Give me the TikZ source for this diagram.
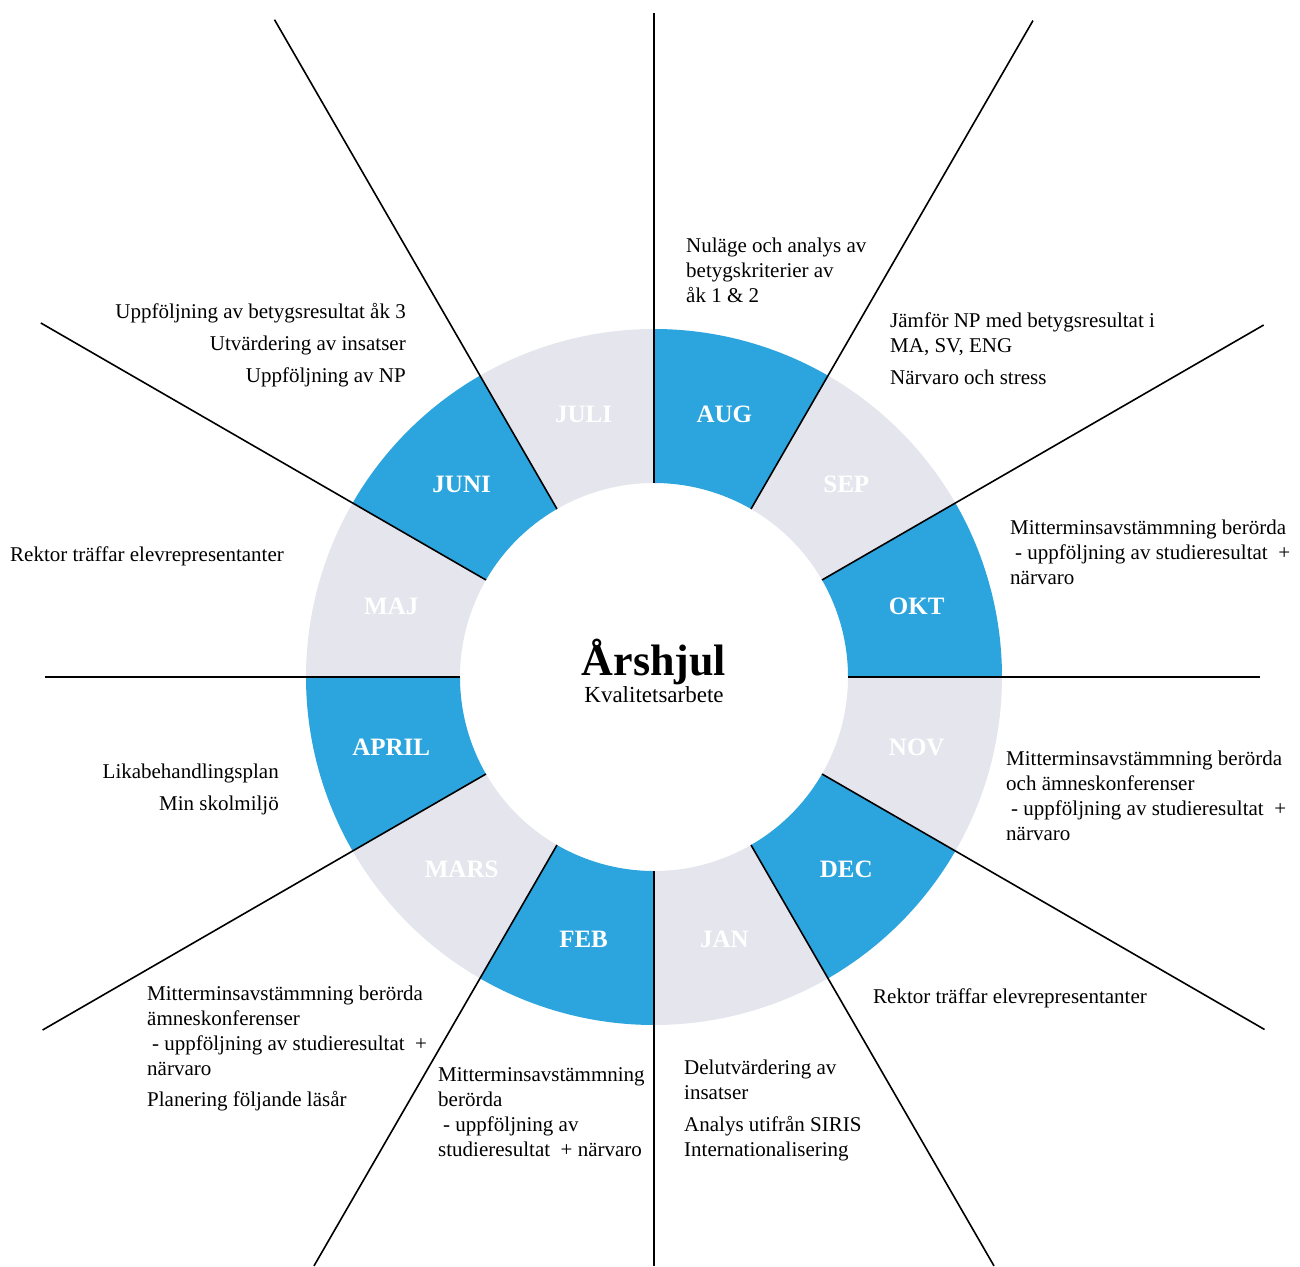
\documentclass[tikz,border=0pt]{standalone}
\usepackage{fontspec}
\setmainfont{Liberation Serif}
\definecolor{wheelblue}{RGB}{44,165,222}
\definecolor{wheelgray}{RGB}{229,230,237}
\begin{document}
\begin{tikzpicture}[x=1pt,y=1pt,
    note/.style={align=left,inner sep=0pt,anchor=north west,font=\fontsize{21}{25}\selectfont},
    rnote/.style={note,align=right,anchor=north east},
    month/.style={text=white,font=\bfseries\fontsize{25}{25}\selectfont}]
  \useasboundingbox (-654,-589) rectangle (646,677);

  % ring of months
  \foreach \a/\c in {0/wheelblue,30/wheelgray,60/wheelblue,90/wheelgray,120/wheelblue,150/wheelgray,
                     180/wheelblue,210/wheelgray,240/wheelblue,270/wheelgray,300/wheelblue,330/wheelgray}
    \fill[\c] (\a:348) arc[start angle=\a,end angle={\a+30},radius=348]
      -- ({\a+30}:194) arc[start angle={\a+30},end angle=\a,radius=194] -- cycle;

  \foreach \a/\l in {90/664,60/758,30/704,0/606,-30/705,-60/680,-90/589,-120/680,-150/706,180/609,150/708,120/759}
    \draw[line width=1.6pt] (\a:194) -- (\a:\l);

  \foreach \a/\m in {75/AUG,45/SEP,15/OKT,-15/NOV,-45/DEC,-75/JAN,-105/FEB,-135/MARS,-165/APRIL,165/MAJ,135/JUNI,105/JULI}
    \node[month] (\m) at (\a:272) {\m};

  \node[font=\bfseries\fontsize{44}{44}\selectfont,anchor=base] (title) at (0,2) {Årshjul};
  \node[font=\fontsize{23}{23}\selectfont,anchor=base] (subtitle) at (0,-25) {Kvalitetsarbete};

  % notes per month
  \node[note] (augnote) at (32,439) {Nuläge och analys av\\betygskriterier av\\åk 1 \& 2};
  \node[note] (sepnote) at (236,364) {Jämför NP med betygsresultat i\\MA, SV, ENG\\[7pt]Närvaro och stress};
  \node[note] (oktnote) at (356,157) {Mitterminsavstämmning berörda\\\hspace*{5pt}- uppföljning av studieresultat\ \ +\\närvaro};
  \node[note] (novnote) at (352,-74) {Mitterminsavstämmning berörda\\och ämneskonferenser\\\hspace*{5pt}- uppföljning av studieresultat\ \ +\\närvaro};
  \node[note] (decnote) at (219,-312) {Rektor träffar elevrepresentanter};
  \node[note] (jannote) at (30,-383) {Delutvärdering av\\insatser\\[7pt]Analys utifrån SIRIS\\Internationalisering};
  \node[note] (febnote) at (-216,-390) {Mitterminsavstämmning\\berörda\\\hspace*{5pt}- uppföljning av\\studieresultat\ \ + närvaro};
  \node[note] (marsnote) at (-507,-309) {Mitterminsavstämmning berörda\\ämneskonferenser\\\hspace*{5pt}- uppföljning av studieresultat\ \ +\\närvaro\\[6pt]Planering följande läsår};
  \node[rnote] (aprilnote) at (-375,-87) {Likabehandlingsplan\\[7pt]Min skolmiljö};
  \node[note] (majnote) at (-644,130) {Rektor träffar elevrepresentanter};
  \node[rnote] (juninote) at (-248,374) {Uppföljning av betygsresultat åk 3\\[7pt]Utvärdering av insatser\\[7pt]Uppföljning av NP};
\end{tikzpicture}
\end{document}
